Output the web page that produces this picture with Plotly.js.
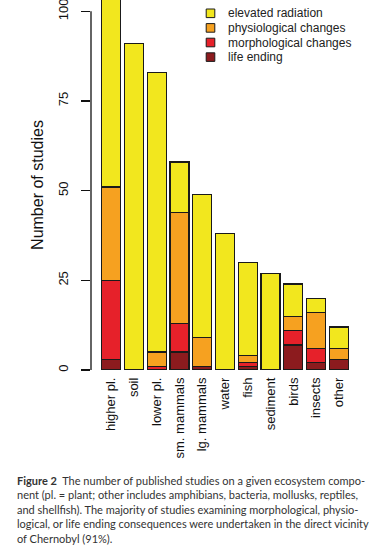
<!DOCTYPE html>
<html><head><meta charset="utf-8">
<script src="https://cdn.plot.ly/plotly-3.0.1.min.js"></script>
<style>html,body{margin:0;padding:0;background:#fff}#chart{width:377px;height:545px}</style>
</head><body><div id="chart"></div>
<script>
const categories = ["higher pl.","soil","lower pl.","sm. mammals","lg. mammals","water","fish","sediment","birds","insects","other"];
const lifeEnding        = [3, 0, 0, 5, 1, 0, 1, 0, 7, 2, 3];
const morphological     = [22, 0, 1, 8, 0, 0, 1, 0, 4, 4, 0];
const physiological     = [26, 0, 4, 31, 8, 0, 2, 0, 4, 10, 3];
const elevatedRadiation = [59, 91, 78, 14, 40, 38, 26, 27, 9, 4, 6];
const seriesNames  = ["life ending", "morphological changes", "physiological changes", "elevated radiation"];
const seriesValues = [lifeEnding, morphological, physiological, elevatedRadiation];
const seriesColors = ["#8C1B1E", "#E6212A", "#F6A120", "#F2E71E"];
const yTicks = [0, 25, 50, 75, 100];
const captionLines = [
  "<b>Figure 2</b>  The number of published studies on a given ecosystem compo-",
  "nent (pl. = plant; other includes amphibians, bacteria, mollusks, reptiles,",
  "and shellfish). The majority of studies examining morphological, physio-",
  "logical, or life ending consequences were undertaken in the direct vicinity",
  "of Chernobyl (91%)."
];

// plot area geometry (pixels)
const W = 377, H = 545, L = 91, R = 360, T = 0, B = 370;
const px2x = p => (p - L) / (R - L);
const py2y = p => (B - p) / (B - T);

const traces = seriesNames.map((n, i) => ({
  type: "bar", name: n, x: categories, y: seriesValues[i],
  marker: {color: seriesColors[i], line: {color: "#1a1a1a", width: 1.3}},
  showlegend: false, hoverinfo: "x+y+name"
}));

const shapes = [
  {type: "line", xref: "paper", yref: "y", x0: 0, x1: 0, y0: 0, y1: 100, line: {color: "#111", width: 1.3}}
];
const annotations = [];
// manual legend (elevated radiation at top)
const legOrder = [3, 2, 1, 0];
legOrder.forEach((s, k) => {
  const cy = 13.3 + k * 14.6, cx = 210.5, h = 4.3;
  shapes.push({type: "rect", xref: "paper", yref: "paper",
    x0: px2x(cx - h), x1: px2x(cx + h), y0: py2y(cy + h), y1: py2y(cy - h),
    fillcolor: seriesColors[s], line: {color: "#1a1a1a", width: 1}});
  annotations.push({xref: "paper", yref: "paper", x: px2x(225.5), y: py2y(cy),
    xanchor: "left", yanchor: "middle", showarrow: false, text: seriesNames[s],
    font: {family: "Liberation Sans, Arial, sans-serif", size: 12, color: "#222"}});
});
// caption
captionLines.forEach((t, k) => {
  annotations.push({xref: "paper", yref: "paper", x: px2x(15), y: py2y(480 + k * 14.6),
    xanchor: "left", yanchor: "middle", showarrow: false, text: t, align: "left",
    font: {family: "Lato, Open Sans, sans-serif", size: 11, color: "#333"}});
});

const layout = {
  width: W, height: H, barmode: "stack", bargap: 0.165,
  paper_bgcolor: "#fff", plot_bgcolor: "#fff",
  margin: {l: L, r: W - R, t: T, b: H - B, pad: 0},
  showlegend: false,
  xaxis: {
    type: "category", range: [-0.8875, 10.93], showline: false, showgrid: false, zeroline: false,
    ticks: "", tickangle: -90, ticklabelstandoff: 4,
    tickfont: {family: "Liberation Sans, Arial, sans-serif", size: 13, color: "#111"}
  },
  yaxis: {
    range: [0, 103.15], tickvals: yTicks, ticktext: yTicks.map(String),
    showline: false, showgrid: false, zeroline: false,
    ticks: "outside", ticklen: 9, tickwidth: 1.3, tickcolor: "#111",
    tickangle: -90, ticklabelstandoff: 8, ticklabeloverflow: "allow",
    tickfont: {family: "Liberation Sans, Arial, sans-serif", size: 13, color: "#111"},
    title: {text: "Number of studies", standoff: 8,
      font: {family: "Liberation Sans, Arial, sans-serif", size: 16, color: "#111"}}
  },
  shapes: shapes, annotations: annotations
};
Plotly.newPlot("chart", traces, layout, {displayModeBar: false, staticPlot: true});
</script>
</body></html>
